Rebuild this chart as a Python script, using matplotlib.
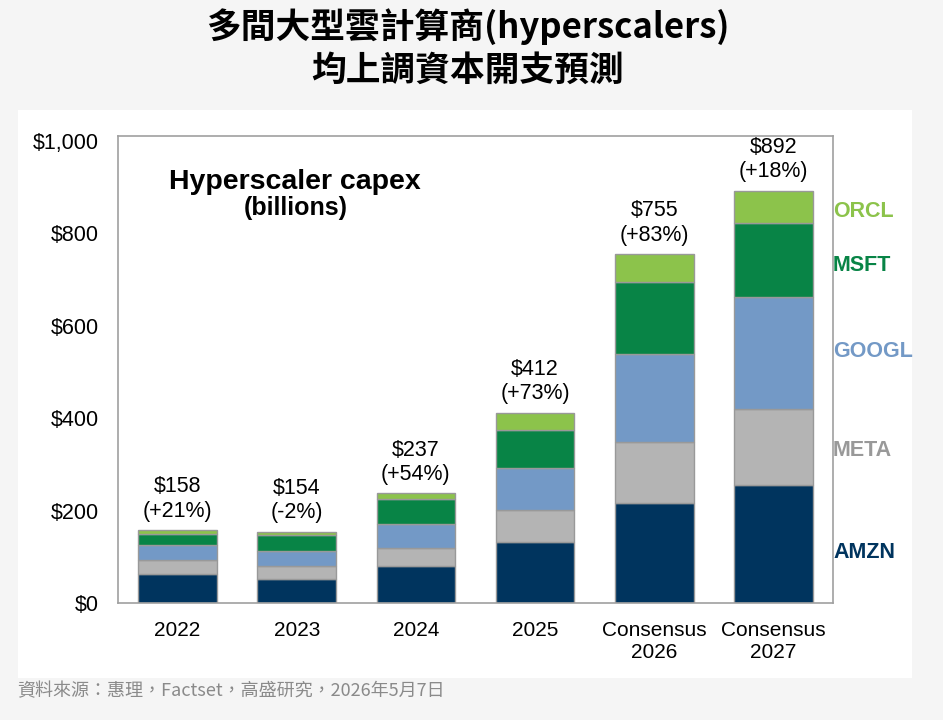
import matplotlib.pyplot as plt
from matplotlib.patches import Rectangle
import numpy as np

# data (US$ billions)
years = ['2022', '2023', '2024', '2025', 'Consensus\n2026', 'Consensus\n2027']
amzn = [62, 52, 80, 131, 217, 256]
meta = [32, 28, 38, 70, 132, 163]
googl = [32, 32, 53, 92, 189, 242]
msft = [23, 34, 53, 81, 157, 161]
orcl = [9, 8, 13, 38, 60, 70]
totals = [158, 154, 237, 412, 755, 892]
growth = ['+21%', '-2%', '+54%', '+73%', '+83%', '+18%']

names = ['AMZN', 'META', 'GOOGL', 'MSFT', 'ORCL']
colors = ['#00345e', '#b4b4b4', '#7399c6', '#088446', '#8cc34b']
label_colors = ['#00345e', '#999999', '#7399c6', '#088446', '#8cc34b']
label_y = [110, 330, 543, 730, 847]

sans = ['Liberation Sans', 'DejaVu Sans']
cjk = ['Noto Sans CJK TC', 'DejaVu Sans']

fig = plt.figure(figsize=(9.43, 7.2), dpi=100)
fig.patch.set_facecolor('#f5f5f5')
panel = Rectangle((18 / 943, 1 - 678 / 720), (912 - 18) / 943, (678 - 110) / 720,
                  transform=fig.transFigure, facecolor='white', edgecolor='none', zorder=-10)
fig.add_artist(panel)

fig.text(0.496, 1 - 27 / 720, '多間大型雲計算商(hyperscalers)', ha='center', va='center',
         fontsize=25, fontweight='bold', family=cjk)
fig.text(0.496, 1 - 70 / 720, '均上調資本開支預測', ha='center', va='center',
         fontsize=25, fontweight='bold', family=cjk)
fig.text(17 / 943, 1 - 691 / 720, '資料來源：惠理，Factset，高盛研究，2026年5月7日', ha='left', va='center',
         fontsize=13, color='#8a8a8a', family=cjk)

ax = fig.add_axes([118 / 943, 1 - 603 / 720, 715 / 943, 467 / 720])
ax.set_facecolor('white')
x = np.arange(len(years))
bottom = np.zeros(len(years))
for vals, c in zip([amzn, meta, googl, msft, orcl], colors):
    ax.bar(x, vals, 0.66, bottom=bottom, color=c, edgecolor='#999999', linewidth=1, zorder=2)
    bottom += np.array(vals)

for i, (t, g) in enumerate(zip(totals, growth)):
    ax.annotate(f'${t}\n({g})', (x[i], t), xytext=(0, 6), textcoords='offset points',
                ha='center', va='bottom', fontsize=15.5, family=sans, linespacing=1.22)

for n, c, ly in zip(names, label_colors, label_y):
    ax.text(5.5, ly, n, color=c, fontsize=15.5, fontweight='bold', family=sans,
            ha='left', va='center', clip_on=False)

ax.text(0.248, 0.9015, 'Hyperscaler capex', transform=ax.transAxes, ha='center', va='center',
        fontsize=20.5, fontweight='bold', family=sans)
ax.text(0.248, 0.846, '(billions)', transform=ax.transAxes, ha='center', va='center',
        fontsize=18, fontweight='bold', family=sans)

ax.set_xlim(-0.5, 5.5)
ax.set_ylim(0, 1010)
ax.set_yticks(range(0, 1001, 200))
ax.set_yticklabels(['$0', '$200', '$400', '$600', '$800', '$1,000'], family=sans, fontsize=15.5)
ax.set_xticks(x)
ax.set_xticklabels(years, family=sans, fontsize=15, linespacing=1.22)
ax.tick_params(length=0)
ax.tick_params(axis='x', pad=13)
ax.tick_params(axis='y', pad=14)
for s in ax.spines.values():
    s.set_color('#a0a0a0')
    s.set_linewidth(1.2)

fig.savefig('out.png', dpi=100, facecolor=fig.get_facecolor())
